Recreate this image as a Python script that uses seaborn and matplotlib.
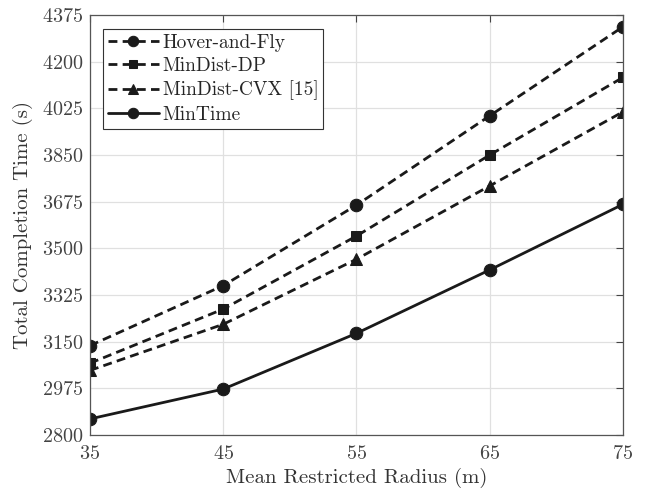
import matplotlib
matplotlib.use("Agg")
import matplotlib.pyplot as plt
import seaborn as sns
import pandas as pd

radius = [35, 45, 55, 65, 75]
hover_and_fly = [3135, 3360, 3662, 3997, 4331]
mindist_dp = [3069, 3272, 3546, 3850, 4141]
mindist_cvx = [3042, 3215, 3459, 3734, 4012]
mintime = [2860, 2972, 3181, 3419, 3665]
methods = ["Hover-and-Fly", "MinDist-DP", "MinDist-CVX [15]", "MinTime"]
yticks = [2800, 2975, 3150, 3325, 3500, 3675, 3850, 4025, 4200, 4375]

rows = []
for m, vals in zip(methods, [hover_and_fly, mindist_dp, mindist_cvx, mintime]):
    for x, v in zip(radius, vals):
        rows.append({"radius": x, "time": v, "method": m})
df = pd.DataFrame(rows)

sns.set_theme(style="whitegrid")
plt.rcParams["font.family"] = "serif"
plt.rcParams["font.serif"] = ["cmr10", "DejaVu Serif"]
plt.rcParams["mathtext.fontset"] = "cm"
plt.rcParams["axes.formatter.use_mathtext"] = True

fig = plt.figure(figsize=(6.52, 4.92), dpi=100)
ax = fig.add_axes([0.138, 0.116, 0.8175, 0.8535])

col = "#1a1a1a"
sns.lineplot(data=df, x="radius", y="time", hue="method", style="method",
             hue_order=methods, style_order=methods,
             palette=[col] * 4,
             markers={"Hover-and-Fly": "o", "MinDist-DP": "s", "MinDist-CVX [15]": "^", "MinTime": "o"},
             dashes={"Hover-and-Fly": (3.2, 1.9), "MinDist-DP": (3.2, 1.9), "MinDist-CVX [15]": (3.2, 1.9), "MinTime": ""},
             markersize=9, linewidth=2.0, markeredgecolor=col, ax=ax)

# squares drawn slightly smaller
for line in ax.lines:
    if line.get_marker() == "s":
        line.set_markersize(7.5)

ax.set_xlim(35, 75)
ax.set_ylim(2800, 4375)
ax.set_xticks(radius)
ax.set_yticks(yticks)
ax.set_xlabel("Mean Restricted Radius (m)", fontsize=15, color="#333333", labelpad=4)
ax.set_ylabel("Total Completion Time (s)", fontsize=15, color="#333333", labelpad=6)
ax.tick_params(axis="both", labelsize=14.5, colors="#444444", direction="in",
               length=5, top=True, right=True, width=0.8)
ax.tick_params(axis="x", pad=7)
ax.tick_params(axis="y", pad=5)
ax.grid(True, color="#e0e0e0", linewidth=0.9)
ax.set_facecolor("white")
for s in ax.spines.values():
    s.set_color("#555555")
    s.set_linewidth(0.9)

handles, labels = ax.get_legend_handles_labels()
for h in handles:
    if h.get_marker() == "s":
        h.set_markersize(6)
    else:
        h.set_markersize(7.5)
leg = ax.legend(handles, labels, loc="upper left", bbox_to_anchor=(0.025, 0.967),
                fontsize=14, frameon=True, fancybox=False, framealpha=1,
                edgecolor="#333333", handlelength=2.6, borderpad=0.25,
                labelspacing=0.28, handletextpad=0.2, borderaxespad=0)
leg.get_frame().set_linewidth(0.8)

fig.savefig("out.png", dpi=100)
